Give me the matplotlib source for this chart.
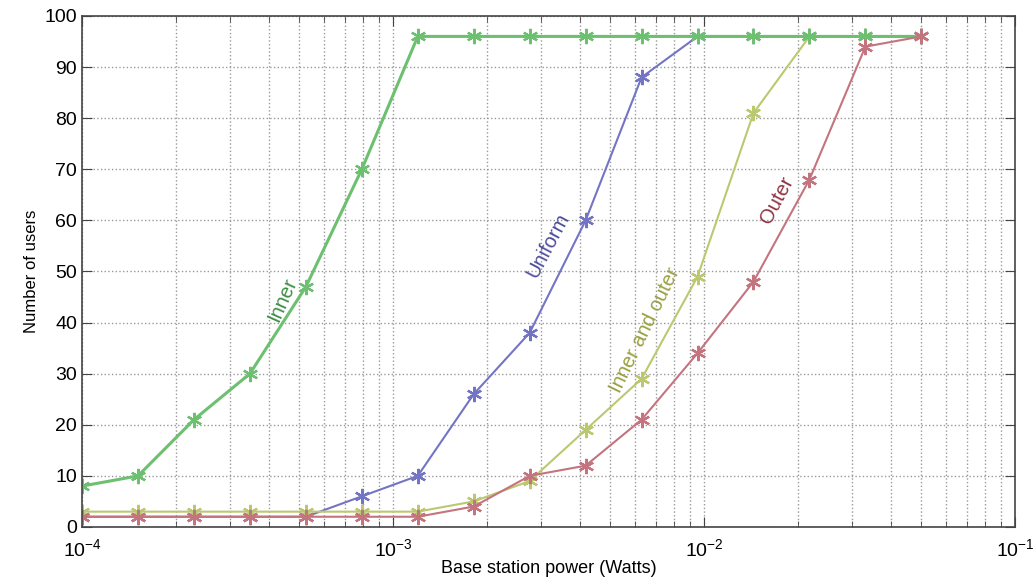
import numpy as np
import matplotlib.pyplot as plt

# Base station power sweep (W), 16 log-spaced points from 1e-4 to 5e-2
power = np.logspace(-4, np.log10(0.05), 16)

users_uniform = [2, 2, 2, 2, 2, 6, 10, 26, 38, 60, 88, 96, 96, 96, 96, 96]
users_inner_outer = [3, 3, 3, 3, 3, 3, 3, 5, 9, 19, 29, 49, 81, 96, 96, 96]
users_inner = [8, 10, 21, 30, 47, 70, 96, 96, 96, 96, 96, 96, 96, 96, 96, 96]
users_outer = [2, 2, 2, 2, 2, 2, 2, 4, 10, 12, 21, 34, 48, 68, 94, 96]

plt.rcParams['font.family'] = ['Liberation Sans', 'DejaVu Sans']

fig = plt.figure(figsize=(10.36, 5.77), dpi=100)
ax = fig.add_axes([0.0792, 0.0867, 0.9005, 0.8856])

star = (6, 2, 0)  # asterisk marker
mk = dict(marker=star, markersize=11, markeredgewidth=1.6)
ax.plot(power, users_uniform, color='#7474c4', lw=1.5, **mk)
ax.plot(power, users_inner_outer, color='#bcc870', lw=1.5, **mk)
ax.plot(power, users_inner, color='#6cc070', lw=2.2, **mk)
ax.plot(power, users_outer, color='#c4747e', lw=1.5, **mk)

# curve labels
ax.text(4.4e-4, 44.4, 'Inner', color='#3e8e44', rotation=66, fontsize=14.5,
        ha='center', va='center')
ax.text(3.15e-3, 55.2, 'Uniform', color='#4c4c9c', rotation=62, fontsize=14.5,
        ha='center', va='center')
ax.text(6.46e-3, 38.5, 'Inner and outer', color='#98a040', rotation=64, fontsize=14.5,
        ha='center', va='center')
ax.text(1.72e-2, 64, 'Outer', color='#8e3444', rotation=62, fontsize=14.5,
        ha='center', va='center')

ax.set_xscale('log')
ax.set_xlim(1e-4, 1e-1)
ax.set_ylim(0, 100)
ax.set_yticks(np.arange(0, 101, 10))

ax.grid(True, which='major', axis='both', linestyle=':', color='#999999', lw=1)
ax.grid(True, which='minor', axis='x', linestyle=':', color='#999999', lw=1)

ax.tick_params(which='both', direction='in', top=True, right=True,
               labelsize=14, color='#444444')
ax.tick_params(which='major', length=7)
ax.tick_params(which='minor', length=4)
ax.tick_params(axis='x', pad=8)
for s in ax.spines.values():
    s.set_color('#444444')
    s.set_linewidth(1.2)

ax.set_xlabel('Base station power (Watts)', fontsize=13, labelpad=0)
ax.set_ylabel('Number of users', fontsize=12, fontstretch='condensed')

fig.savefig('out.png', dpi=100)
